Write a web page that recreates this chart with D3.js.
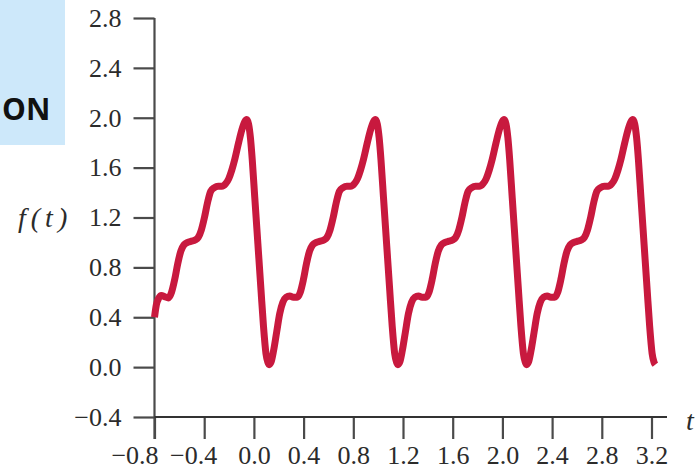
<!DOCTYPE html>
<html><head><meta charset="utf-8">
<script src="https://cdn.jsdelivr.net/npm/d3@7"></script>
<style>body{margin:0;background:#fff}svg{display:block}</style>
</head><body>
<svg id="c" width="698" height="472"></svg>
<script>
const xTicks = [-0.8, -0.4, 0.0, 0.4, 0.8, 1.2, 1.6, 2.0, 2.4, 2.8, 3.2];
const yTicks = [-0.4, 0.0, 0.4, 0.8, 1.2, 1.6, 2.0, 2.4, 2.8];
const xLabel = "t";
const yLabel = "f(t)";
const bannerText = "ON";

const tValues = [
  -0.800, -0.785, -0.765, -0.745, -0.718, -0.688, -0.663, -0.638, -0.613, -0.588,
  -0.563, -0.533, -0.503, -0.473, -0.448, -0.423, -0.398, -0.373, -0.348, -0.318,
  -0.288, -0.258, -0.228, -0.203, -0.178, -0.153, -0.123, -0.098, -0.073, -0.058,
  -0.043, -0.028, -0.013, 0.007, 0.032, 0.057, 0.077, 0.097, 0.112,
  0.123, 0.138, 0.158, 0.183, 0.208, 0.233, 0.258, 0.288, 0.318, 0.348,
  0.373, 0.398, 0.423, 0.448, 0.473, 0.503, 0.533, 0.563, 0.588, 0.613,
  0.638, 0.663, 0.688, 0.718, 0.748, 0.778, 0.808, 0.833, 0.858, 0.883,
  0.913, 0.938, 0.963, 0.978, 0.993, 1.008, 1.023, 1.043, 1.068, 1.093,
  1.113, 1.133, 1.148,
  1.159, 1.174, 1.194, 1.219, 1.244, 1.269, 1.294, 1.324, 1.354, 1.384,
  1.409, 1.434, 1.459, 1.484, 1.509, 1.539, 1.569, 1.599, 1.624, 1.649,
  1.674, 1.699, 1.724, 1.754, 1.784, 1.814, 1.844, 1.869, 1.894, 1.919,
  1.949, 1.974, 1.999, 2.014, 2.029, 2.044, 2.059, 2.079, 2.104, 2.129,
  2.149, 2.169, 2.184,
  2.195, 2.210, 2.230, 2.255, 2.280, 2.305, 2.330, 2.360, 2.390, 2.420,
  2.445, 2.470, 2.495, 2.520, 2.545, 2.575, 2.605, 2.635, 2.660, 2.685,
  2.710, 2.735, 2.760, 2.790, 2.820, 2.850, 2.880, 2.905, 2.930, 2.955,
  2.985, 3.010, 3.035, 3.050, 3.065, 3.080, 3.095, 3.115, 3.140, 3.165,
  3.185, 3.205, 3.220, 3.231
];
const fValues = [
  0.40, 0.50, 0.555, 0.575, 0.565, 0.555, 0.60, 0.70, 0.83, 0.93,
  0.98, 1.00, 1.01, 1.02, 1.04, 1.10, 1.20, 1.32, 1.41, 1.44,
  1.45, 1.45, 1.47, 1.51, 1.58, 1.67, 1.80, 1.90, 1.97, 1.985,
  1.95, 1.84, 1.66, 1.36, 0.99, 0.62, 0.33, 0.11, 0.04,
  0.02, 0.04, 0.13, 0.28, 0.43, 0.52, 0.56, 0.57, 0.56, 0.56,
  0.60, 0.70, 0.83, 0.93, 0.98, 1.00, 1.01, 1.02, 1.04, 1.10,
  1.20, 1.32, 1.41, 1.44, 1.45, 1.45, 1.47, 1.51, 1.58, 1.67,
  1.80, 1.90, 1.97, 1.985, 1.95, 1.84, 1.66, 1.36, 0.99, 0.62,
  0.33, 0.11, 0.04,
  0.02, 0.04, 0.13, 0.28, 0.43, 0.52, 0.56, 0.57, 0.56, 0.56,
  0.60, 0.70, 0.83, 0.93, 0.98, 1.00, 1.01, 1.02, 1.04, 1.10,
  1.20, 1.32, 1.41, 1.44, 1.45, 1.45, 1.47, 1.51, 1.58, 1.67,
  1.80, 1.90, 1.97, 1.985, 1.95, 1.84, 1.66, 1.36, 0.99, 0.62,
  0.33, 0.11, 0.04,
  0.02, 0.04, 0.13, 0.28, 0.43, 0.52, 0.56, 0.57, 0.56, 0.56,
  0.60, 0.70, 0.83, 0.93, 0.98, 1.00, 1.01, 1.02, 1.04, 1.10,
  1.20, 1.32, 1.41, 1.44, 1.45, 1.45, 1.47, 1.51, 1.58, 1.67,
  1.80, 1.90, 1.97, 1.985, 1.95, 1.84, 1.66, 1.36, 0.99, 0.62,
  0.33, 0.11, 0.04, 0.02
];

const svg = d3.select("#c");
const serif = "'Liberation Serif','Times New Roman',serif";
const axisColor = "#4a4a4a";
const textColor = "#2b2b2b";

// banner
svg.append("rect").attr("x", 0).attr("y", 0).attr("width", 65).attr("height", 145).attr("fill", "#cde8fa");
svg.append("text").attr("x", 2).attr("y", 120).attr("text-anchor", "start")
  .attr("font-family", "'Open Sans','Noto Sans',sans-serif").attr("font-weight", 700)
  .attr("font-size", 30).attr("fill", "#111").text(bannerText);

const x = d3.scaleLinear().domain([-0.8, 3.2]).range([154.5, 651.5]);
const y = d3.scaleLinear().domain([-0.4, 2.8]).range([417, 18]);

const fmt = d3.format(".1f");

// y axis
const gy = svg.append("g").attr("transform", `translate(${x(-0.8)},0)`)
  .call(d3.axisLeft(y).tickValues(yTicks).tickSize(21).tickPadding(12).tickFormat(fmt));
gy.select(".domain").remove();
gy.selectAll(".tick line").attr("stroke", axisColor).attr("stroke-width", 2.2);
gy.selectAll(".tick text").attr("font-family", serif).attr("font-size", 26).attr("fill", textColor);

// x axis
const gx = svg.append("g").attr("transform", `translate(0,${y(-0.4)})`)
  .call(d3.axisBottom(x).tickValues(xTicks).tickSize(22).tickPadding(7).tickFormat(fmt));
gx.select(".domain").remove();
gx.selectAll(".tick line").attr("stroke", axisColor).attr("stroke-width", 2.2);
gx.selectAll(".tick text").attr("font-family", serif).attr("font-size", 26).attr("fill", textColor)
  .attr("dx", d => d === -0.8 ? -20 : (d === -0.4 ? -11 : 0));

// axis lines
svg.append("line").attr("x1", x(-0.8)).attr("x2", x(-0.8)).attr("y1", y(2.8)).attr("y2", y(-0.4) + 22)
  .attr("stroke", axisColor).attr("stroke-width", 2.2);
svg.append("line").attr("x1", x(-0.8)).attr("x2", 667).attr("y1", y(-0.4)).attr("y2", y(-0.4))
  .attr("stroke", "#333").attr("stroke-width", 2.2);

// labels
svg.append("text").attr("x", 18).attr("y", 227).attr("font-family", serif).attr("font-style", "italic")
  .attr("font-size", 28).attr("letter-spacing", "5px").attr("fill", textColor).text(yLabel);
svg.append("text").attr("x", 690).attr("y", 430).attr("text-anchor", "middle").attr("font-family", serif)
  .attr("font-style", "italic").attr("font-size", 28).attr("fill", textColor).text(xLabel);

// curve
const pts = tValues.map((t, i) => [t, fValues[i]]);
const line = d3.line().x(d => x(d[0])).y(d => y(d[1])).curve(d3.curveMonotoneX);
svg.append("path").datum(pts).attr("d", line).attr("fill", "none")
  .attr("stroke", "#c8193e").attr("stroke-width", 7).attr("stroke-linejoin", "round");
</script>
</body></html>
